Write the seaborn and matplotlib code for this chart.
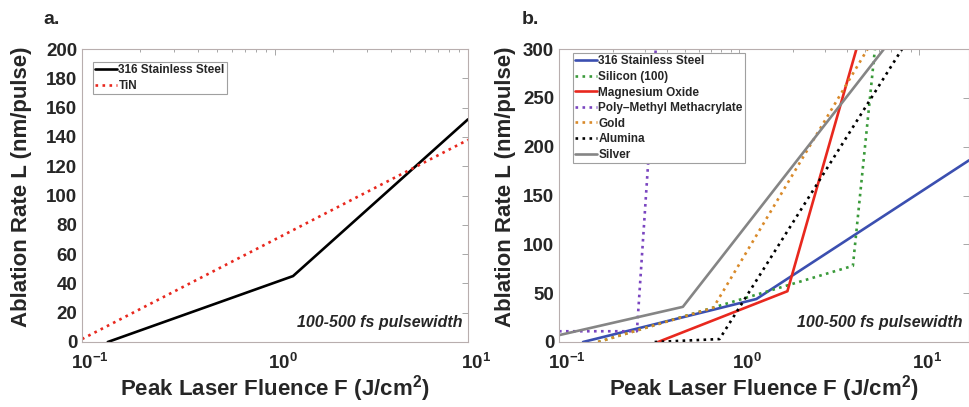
import numpy as np
import pandas as pd
import seaborn as sns
import matplotlib
matplotlib.use("Agg")
import matplotlib.pyplot as plt
from matplotlib.ticker import LogLocator, NullFormatter
from matplotlib.transforms import ScaledTranslation

# ---------------- data ----------------
# Panel a
ss_a_F = [0.136, 1.24, 10.0]
ss_a_L = [0.0, 45.0, 152.0]
tin_F = [0.1, 10.0]
tin_L = [2.0, 138.0]

# Panel b
ss_b_F = [0.136, 1.25, 19.0]
ss_b_L = [0.0, 44.0, 186.0]
si_F = [0.165, 4.3, 5.7]
si_L = [0.0, 78.0, 300.0]
mgo_F = [0.355, 1.86, 4.5]
mgo_L = [0.0, 52.0, 300.0]
pmma_F = [0.1, 0.271, 0.345]
pmma_L = [11.0, 11.0, 300.0]
gold_F = [0.165, 0.72, 5.19]
gold_L = [0.0, 35.0, 300.0]
alu_F = [0.34, 0.78, 8.07]
alu_L = [0.0, 3.0, 300.0]
ag_F = [0.1, 0.488, 6.4]
ag_L = [7.0, 36.0, 300.0]

xtick_values = [0.1, 1, 10]
xtick_labels = [r"$10^{-1}$", r"$10^{0}$", r"$10^{1}$"]
yticks_a = list(range(0, 201, 20))
yticks_b = list(range(0, 301, 50))

labels_a = ["316 Stainless Steel", "TiN"]
labels_b = ["316 Stainless Steel", "Silicon (100)", "Magnesium Oxide",
            "Poly\u2013Methyl Methacrylate", "Gold", "Alumina", "Silver"]
note_text = "100-500 fs pulsewidth"
xlabel = "Peak Laser Fluence F (J/cm$^2$)"
ylabel = "Ablation Rate L (nm/pulse)"

# ---------------- style ----------------
sns.set_theme(style="white")
plt.rcParams["font.family"] = ["Liberation Sans", "DejaVu Sans"]
plt.rcParams["font.weight"] = "bold"
plt.rcParams["mathtext.fontset"] = "custom"
plt.rcParams["mathtext.rm"] = "Liberation Sans:bold"
plt.rcParams["mathtext.it"] = "Liberation Sans:bold"
plt.rcParams["mathtext.bf"] = "Liberation Sans:bold"
plt.rcParams["mathtext.default"] = "rm"

fig = plt.figure(figsize=(9.69, 4.07), dpi=100)
W, H = 969, 407
def pos(x0, x1, ytop, ybot):
    return [x0 / W, (H - ybot) / H, (x1 - x0) / W, (ybot - ytop) / H]

ax_a = fig.add_axes(pos(82, 468, 49, 342))
ax_b = fig.add_axes(pos(559, 969, 49, 342))

spine_col = "#b8aeae"

def draw(ax, F, L, color, ls, label):
    df = pd.DataFrame({"F": F, "L": L})
    sns.lineplot(data=df, x="F", y="L", ax=ax, color=color, linestyle=ls,
                 linewidth=1.9, sort=False, estimator=None, label=label)

# Panel a
draw(ax_a, ss_a_F, ss_a_L, "black", "-", labels_a[0])
draw(ax_a, tin_F, tin_L, "#e8281e", ":", labels_a[1])

# Panel b
series_b = [
    (ss_b_F, ss_b_L, "#3b4fb0", "-"),
    (si_F, si_L, "#3a9a3a", ":"),
    (mgo_F, mgo_L, "#e8281e", "-"),
    (pmma_F, pmma_L, "#7a45c0", ":"),
    (gold_F, gold_L, "#d98a2a", ":"),
    (alu_F, alu_L, "black", ":"),
    (ag_F, ag_L, "#858585", "-"),
]
for (F, L, c, ls), lab in zip(series_b, labels_b):
    draw(ax_b, F, L, c, ls, lab)

for ax, yt, xmax, lx in [(ax_a, yticks_a, 10.0, -0.13),
                         (ax_b, yticks_b, 19.0, -0.105)]:
    ax.set_xscale("log")
    ax.set_xlim(0.1, xmax)
    ax.set_ylim(yt[0], yt[-1])
    ax.set_xticks(xtick_values)
    ax.set_xticklabels(xtick_labels)
    ax.xaxis.set_minor_locator(LogLocator(base=10, subs=np.arange(2, 10)))
    ax.xaxis.set_minor_formatter(NullFormatter())
    ax.set_yticks(yt)
    ax.tick_params(axis="both", which="both", direction="in", top=True,
                   right=True, color="#999999", labelsize=13.5, width=0.6)
    ax.tick_params(which="major", length=4)
    ax.tick_params(which="minor", length=2.5)
    ax.tick_params(axis="x", pad=8)
    for lab in ax.get_yticklabels() + ax.get_xticklabels():
        lab.set_fontweight("bold")
    shift = ScaledTranslation(6 / 72, 0, fig.dpi_scale_trans)
    for lab in ax.xaxis.get_majorticklabels():
        lab.set_transform(lab.get_transform() + shift)
    for s in ax.spines.values():
        s.set_color(spine_col)
        s.set_linewidth(0.8)
    ax.set_xlabel(xlabel, fontsize=16, fontweight="bold", labelpad=0)
    ax.set_ylabel(ylabel, fontsize=16, fontweight="bold")
    ax.yaxis.set_label_coords(lx, 0.53)
    ax.text(0.985, 0.04, note_text, transform=ax.transAxes, ha="right",
            va="bottom", fontsize=11.5, fontweight="bold", style="italic")

leg_kw = dict(loc="upper left", borderaxespad=0, frameon=True, framealpha=1,
              fancybox=False, handlelength=1.8, handletextpad=0.15,
              labelspacing=0.3, borderpad=0.2,
              prop={"weight": "bold", "size": 8.5})
la = ax_a.legend(bbox_to_anchor=(0.0285, 0.956), **leg_kw)
lb = ax_b.legend(bbox_to_anchor=(0.034, 0.986), **leg_kw)
for lg in (la, lb):
    lg.get_frame().set_edgecolor("#a0a0a0")
    lg.get_frame().set_linewidth(0.8)

fig.text(43 / W, 1 - 24 / H, "a.", fontsize=14, fontweight="bold")
fig.text(522 / W, 1 - 24 / H, "b.", fontsize=14, fontweight="bold")

fig.savefig("out.png", dpi=100)
